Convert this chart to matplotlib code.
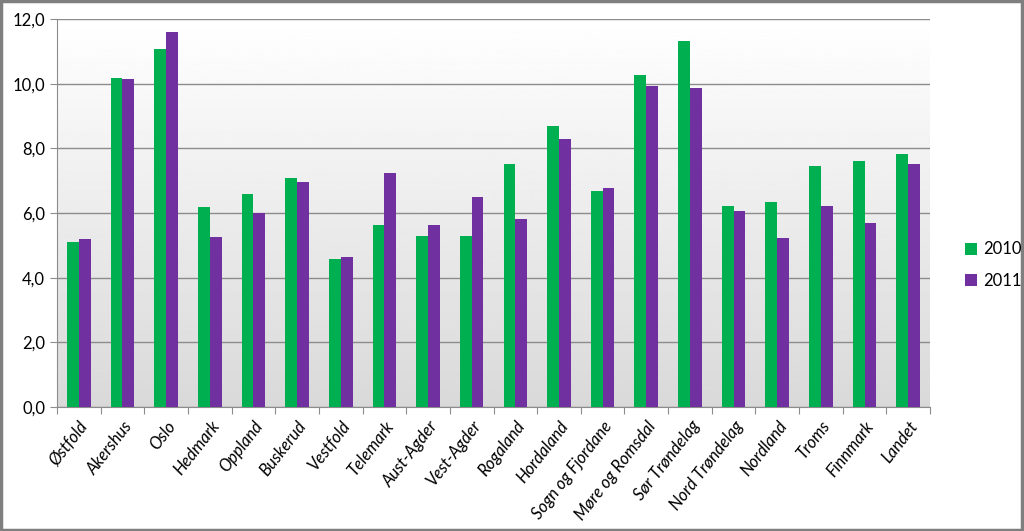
import numpy as np
import matplotlib.pyplot as plt
from matplotlib.patches import Rectangle
from matplotlib.ticker import FuncFormatter

fylker = ['Østfold', 'Akershus', 'Oslo', 'Hedmark', 'Oppland', 'Buskerud', 'Vestfold',
          'Telemark', 'Aust-Agder', 'Vest-Agder', 'Rogaland', 'Hordaland',
          'Sogn og Fjordane', 'Møre og Romsdal', 'Sør Trøndelag', 'Nord Trøndelag',
          'Nordland', 'Troms', 'Finnmark', 'Landet']
v2010 = [5.09, 10.19, 11.08, 6.20, 6.58, 7.08, 4.57, 5.62, 5.29, 5.29, 7.53,
         8.69, 6.67, 10.28, 11.32, 6.23, 6.35, 7.46, 7.61, 7.84]
v2011 = [5.20, 10.15, 11.61, 5.27, 5.99, 6.95, 4.64, 7.23, 5.64, 6.50, 5.82,
         8.29, 6.77, 9.93, 9.88, 6.05, 5.22, 6.23, 5.70, 7.52]

plt.rcParams['font.family'] = ['Lato', 'DejaVu Sans']

fig = plt.figure(figsize=(10.24, 5.31), dpi=100)
ax = fig.add_axes([57/1024, 1 - 407/531, (930-57)/1024, (407-19)/531])

x = np.arange(len(fylker))
w = 0.27
ax.bar(x - w/2, v2010, w, color='#00B050', label='2010', zorder=3)
ax.bar(x + w/2, v2011, w, color='#7030A0', label='2011', zorder=3)

# gradient background white (top) -> light gray (bottom)
grad = np.linspace(1.0, 0.85, 256).reshape(-1, 1)
ax.imshow(grad, extent=[-0.5, len(fylker) - 0.5, 0, 12], origin='upper', cmap='gray',
          vmin=0, vmax=1, aspect='auto', zorder=0)
ax.set_xlim(-0.5, len(fylker) - 0.5)
ax.set_ylim(0, 12)

ax.set_yticks(np.arange(0, 13, 2))
ax.yaxis.set_major_formatter(FuncFormatter(lambda v, p: f'{v:.1f}'.replace('.', ',')))
ax.grid(axis='y', color='#8c8c8c', linewidth=1, zorder=1)
ax.set_axisbelow(True)

ax.set_xticks(np.arange(-0.5, len(fylker), 1), minor=False)
ax.set_xticklabels([])
ax.set_xticks(x, minor=True)
ax.set_xticklabels(fylker, minor=True, rotation=52, ha='right', rotation_mode='anchor',
                   fontsize=12, style='italic')
ax.tick_params(axis='x', which='minor', length=0, pad=8)
ax.tick_params(axis='x', which='major', length=5, color='#8c8c8c', direction='out')
ax.tick_params(axis='y', length=5, color='#8c8c8c', labelsize=12)

for s in ['top', 'right']:
    ax.spines[s].set_visible(False)
for s in ['left', 'bottom']:
    ax.spines[s].set_color('#8c8c8c')

fig.legend(loc='center left', bbox_to_anchor=(950/1024, 1 - 265/531), frameon=False,
           fontsize=12, handlelength=0.7, handleheight=0.7, handletextpad=0.4,
           labelspacing=0.9)

fig.patches.append(Rectangle((0.001, 0.002), 0.997, 0.996, transform=fig.transFigure,
                             fill=False, edgecolor='#7f7f7f', linewidth=2.5))

fig.savefig('out.png', dpi=100)
